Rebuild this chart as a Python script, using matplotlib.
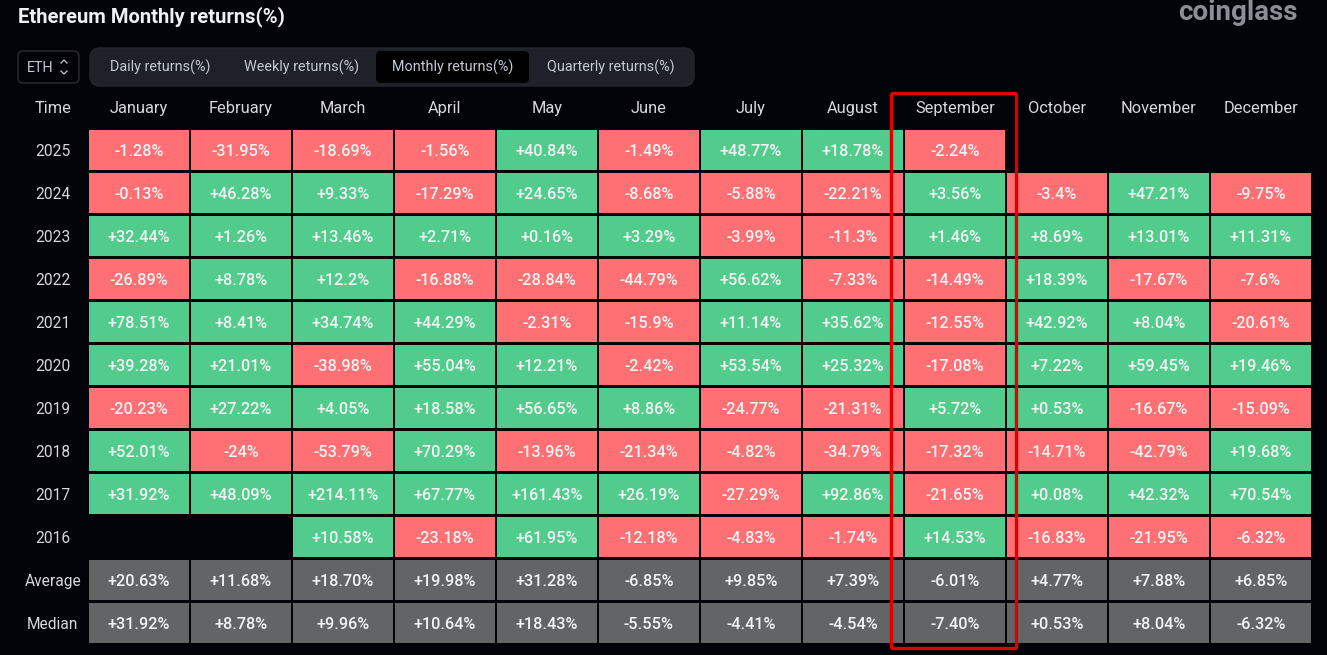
import numpy as np
import matplotlib
matplotlib.use("Agg")
import matplotlib.pyplot as plt
from matplotlib.patches import Rectangle, FancyBboxPatch

### data ###
months = ["January", "February", "March", "April", "May", "June", "July", "August",
          "September", "October", "November", "December"]
years = ["2025", "2024", "2023", "2022", "2021", "2020", "2019", "2018", "2017", "2016"]
r2025 = ["-1.28%", "-31.95%", "-18.69%", "-1.56%", "+40.84%", "-1.49%", "+48.77%", "+18.78%", "-2.24%", "", "", ""]
r2024 = ["-0.13%", "+46.28%", "+9.33%", "-17.29%", "+24.65%", "-8.68%", "-5.88%", "-22.21%", "+3.56%", "-3.4%", "+47.21%", "-9.75%"]
r2023 = ["+32.44%", "+1.26%", "+13.46%", "+2.71%", "+0.16%", "+3.29%", "-3.99%", "-11.3%", "+1.46%", "+8.69%", "+13.01%", "+11.31%"]
r2022 = ["-26.89%", "+8.78%", "+12.2%", "-16.88%", "-28.84%", "-44.79%", "+56.62%", "-7.33%", "-14.49%", "+18.39%", "-17.67%", "-7.6%"]
r2021 = ["+78.51%", "+8.41%", "+34.74%", "+44.29%", "-2.31%", "-15.9%", "+11.14%", "+35.62%", "-12.55%", "+42.92%", "+8.04%", "-20.61%"]
r2020 = ["+39.28%", "+21.01%", "-38.98%", "+55.04%", "+12.21%", "-2.42%", "+53.54%", "+25.32%", "-17.08%", "+7.22%", "+59.45%", "+19.46%"]
r2019 = ["-20.23%", "+27.22%", "+4.05%", "+18.58%", "+56.65%", "+8.86%", "-24.77%", "-21.31%", "+5.72%", "+0.53%", "-16.67%", "-15.09%"]
r2018 = ["+52.01%", "-24%", "-53.79%", "+70.29%", "-13.96%", "-21.34%", "-4.82%", "-34.79%", "-17.32%", "-14.71%", "-42.79%", "+19.68%"]
r2017 = ["+31.92%", "+48.09%", "+214.11%", "+67.77%", "+161.43%", "+26.19%", "-27.29%", "+92.86%", "-21.65%", "+0.08%", "+42.32%", "+70.54%"]
r2016 = ["", "", "+10.58%", "-23.18%", "+61.95%", "-12.18%", "-4.83%", "-1.74%", "+14.53%", "-16.83%", "-21.95%", "-6.32%"]
average = ["+20.63%", "+11.68%", "+18.70%", "+19.98%", "+31.28%", "-6.85%", "+9.85%", "+7.39%", "-6.01%", "+4.77%", "+7.88%", "+6.85%"]
median = ["+31.92%", "+8.78%", "+9.96%", "+10.64%", "+18.43%", "-5.55%", "-4.41%", "-4.54%", "-7.40%", "+0.53%", "+8.04%", "-6.32%"]
tabs = ["Daily returns(%)", "Weekly returns(%)", "Monthly returns(%)", "Quarterly returns(%)"]

year_rows = [r2025, r2024, r2023, r2022, r2021, r2020, r2019, r2018, r2017, r2016]

BG = "#020308"
GREEN = "#52cc8c"
RED = "#ff7074"
GRAY = "#636466"
W, H = 1327, 655
FONT = ["Roboto", "DejaVu Sans"]

fig = plt.figure(figsize=(W / 100, H / 100), dpi=100, facecolor=BG)

# table layer: one unit per column / row
n_rows = len(year_rows) + 2
pitch_x, pitch_y = 102, 43
left, top = 89, 130
tbl = fig.add_axes([left / W, 1 - (top + pitch_y * n_rows) / H, pitch_x * 12 / W, pitch_y * n_rows / H])
tbl.set_xlim(0, 12)
tbl.set_ylim(n_rows, 0)
tbl.axis("off")

gap_x, gap_y = 2 / pitch_x, 3 / pitch_y
all_rows = year_rows + [average, median]
labels = years + ["Average", "Median"]
for i, row in enumerate(all_rows):
    tbl.text(-0.355, i + 0.5, labels[i], color="#d5d8de", fontsize=11.2, family=FONT,
             va="center", ha="center", clip_on=False)
    for j, val in enumerate(row):
        if not val:
            continue
        if i >= len(year_rows):
            color = GRAY
        else:
            color = GREEN if val.startswith("+") else RED
        tbl.add_patch(Rectangle((j, i), 1 - gap_x, 1 - gap_y, fc=color, ec="none"))
        tbl.text(j + 0.49, i + 0.5, val, color="#f2f4f4", fontsize=11.7, family=FONT,
                 fontweight="medium", va="center", ha="center")

tbl.text(-0.355, -0.5, "Time", color="#d5d8de", fontsize=11.8, family=FONT,
         va="center", ha="center", clip_on=False)
for j, m in enumerate(months):
    tbl.text(j + 0.49, -0.5, m, color="#d5d8de", fontsize=11.8, family=FONT,
             va="center", ha="center", clip_on=False)

# page layer in pixel coords, for the controls and the highlight
page = fig.add_axes([0, 0, 1, 1])
page.set_xlim(0, W)
page.set_ylim(H, 0)
page.axis("off")
page.set_zorder(5)

page.text(18, 17, "Ethereum Monthly returns(%)", color="#eef0f5", fontsize=14.6, fontweight="bold",
          family=FONT, va="center", ha="left")
page.text(1238, 13, "coinglass", color="#8b8e95", fontsize=20, fontweight="bold",
          family=FONT, va="center", ha="center")

page.add_patch(FancyBboxPatch((18, 51), 61, 32, boxstyle="round,pad=0,rounding_size=5",
                              fc=BG, ec="#2a2d33", lw=1))
page.text(27, 67.5, "ETH", color="#c4c8d0", fontsize=10.4, family=FONT, va="center", ha="left")
page.plot([61, 64, 67], [63, 60, 63], color="#c4c8d0", lw=0.9)
page.plot([61, 64, 67], [71, 74, 71], color="#c4c8d0", lw=0.9)

page.add_patch(FancyBboxPatch((90, 48), 604, 38, boxstyle="round,pad=0,rounding_size=10",
                              fc="#1e2127", ec="#24272d", lw=1, zorder=1))
page.add_patch(FancyBboxPatch((376, 51), 153, 32, boxstyle="round,pad=0,rounding_size=5",
                              fc="#000000", ec="#000000", lw=0, zorder=2))
tab_x = [160, 301.5, 453, 611]
for label, tx in zip(tabs, tab_x):
    page.text(tx, 67.5, label, color="#c3cad6", fontsize=10.4, family=FONT, va="center", ha="center", zorder=3)

# red highlight around September
sep = months.index("September")
page.add_patch(FancyBboxPatch((left + sep * pitch_x - 13.5, 93.5), 125, 555,
                              boxstyle="round,pad=0,rounding_size=1.5",
                              fc="none", ec="#e00000", lw=2.4, zorder=10))

fig.savefig("out.png", dpi=100, facecolor=BG)
